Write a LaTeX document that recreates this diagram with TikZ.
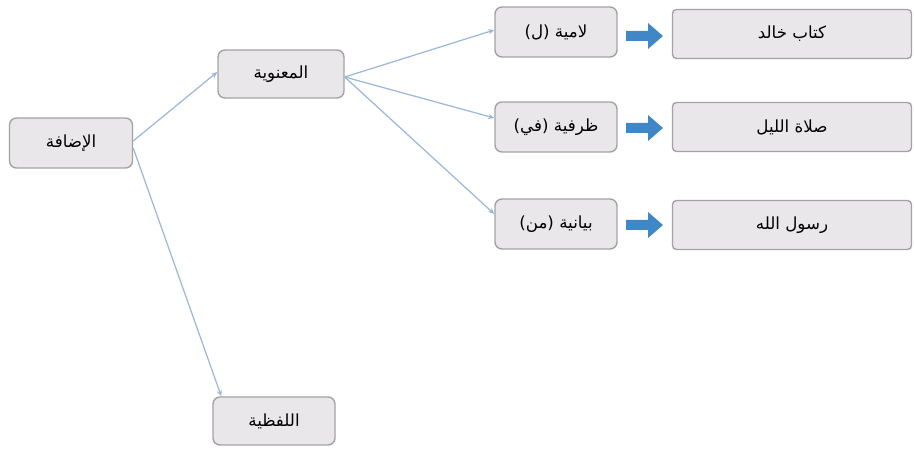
\documentclass[tikz,border=0pt]{standalone}
\usepackage{fontspec}
\usetikzlibrary{arrows.meta}
\TeXXeTstate=1
\newfontfamily\arabicfont[Script=Arabic]{DejaVu Sans}
\definecolor{boxfill}{HTML}{E9E7E9}
\definecolor{boxline}{HTML}{A3A3A6}
\definecolor{conn}{HTML}{9DB7D6}
\definecolor{bluearrow}{HTML}{3F87C6}
\begin{document}
\begin{tikzpicture}[x=0.02cm,y=-0.02cm,
  box/.style={draw=boxline, line width=0.8pt, fill=boxfill, rounded corners=0.14cm,
    inner sep=0pt, minimum width=#1*0.02cm, font=\arabicfont\fontsize{9.5}{11}\selectfont},
  exbox/.style={draw=boxline, line width=0.8pt, fill=boxfill, rounded corners=0.08cm,
    inner sep=0pt, minimum width=239*0.02cm, minimum height=49*0.02cm,
    font=\arabicfont\fontsize{9.5}{11}\selectfont},
  link/.style={draw=conn, line width=0.7pt, -{Stealth[length=3.5pt,width=3pt]}},
  blockarrow/.pic={\fill[bluearrow] (-18,-5) -- (4,-5) -- (4,-13) -- (19,0) -- (4,13) -- (4,5) -- (-18,5) -- cycle;}]
\useasboundingbox (0,0) rectangle (914,449);
\node[box=123, minimum height=50*0.02cm] (idafa) at (71,143) {\beginR الإضافة\endR};
\node[box=126, minimum height=48*0.02cm] (manawi) at (281,74) {\beginR المعنوية\endR};
\node[box=122, minimum height=50*0.02cm] (lamiya) at (556,32) {\beginR لامية (ل)\endR};
\node[box=122, minimum height=50*0.02cm] (zarfiya) at (556,127) {\beginR ظرفية (في)\endR};
\node[box=122, minimum height=50*0.02cm] (bayaniya) at (556,224) {\beginR بيانية (من)\endR};
\node[box=122, minimum height=48*0.02cm] (lafziya) at (274,421) {\beginR اللفظية\endR};
\node[exbox] (ex1) at (792,34) {\beginR كتاب خالد\endR};
\node[exbox] (ex2) at (792,127) {\beginR صلاة الليل\endR};
\node[exbox] (ex3) at (792,225) {\beginR رسول الله\endR};
\pic (a1) at (644,36) {blockarrow};
\pic (a2) at (644,128) {blockarrow};
\pic (a3) at (644,225) {blockarrow};
\draw[link] ([yshift=0.04cm]idafa.east) -- ([yshift=0.04cm]manawi.west);
\draw[link] ([yshift=-0.1cm]idafa.east) -- ([xshift=0.18cm]lafziya.north west);
\draw[link] ([yshift=-0.06cm]manawi.east) -- ([yshift=0.04cm]lamiya.west);
\draw[link] ([yshift=-0.06cm]manawi.east) -- ([yshift=0.18cm]zarfiya.west);
\draw[link] ([yshift=-0.06cm]manawi.east) -- ([yshift=0.2cm]bayaniya.west);
\end{tikzpicture}
\end{document}
